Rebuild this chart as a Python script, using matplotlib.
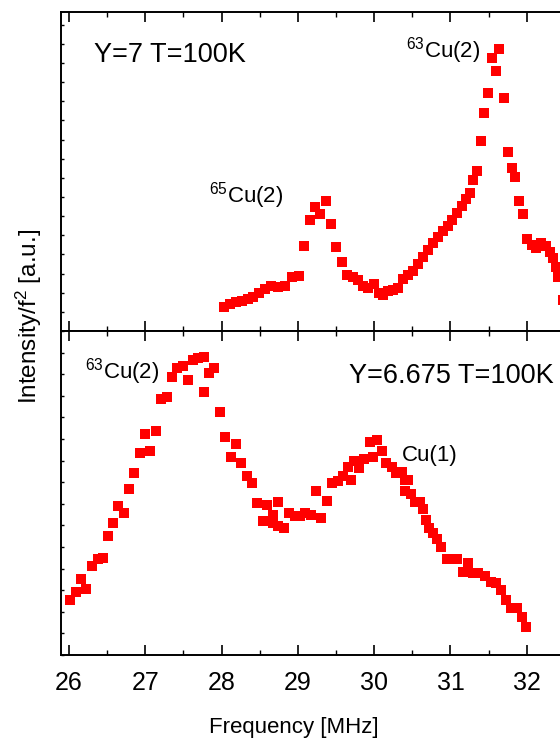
import matplotlib
matplotlib.use("Agg")
from matplotlib import pyplot as plt
from matplotlib.ticker import MultipleLocator, NullFormatter

plt.rcParams["font.family"] = "Liberation Sans"
plt.rcParams["mathtext.fontset"] = "custom"
plt.rcParams["mathtext.rm"] = "Liberation Sans"
plt.rcParams["mathtext.it"] = "Liberation Sans:italic"

# Y=7, T=100K
top_freq = [28.03, 28.11, 28.19, 28.27, 28.35, 28.41, 28.49, 28.57, 28.65, 28.74, 28.83, 28.92, 29.01,
            29.08, 29.16, 29.22, 29.29, 29.37, 29.43, 29.50, 29.58, 29.64,
            29.72, 29.79, 29.85, 29.92, 30.00,
            30.06, 30.12, 30.18, 30.25, 30.31, 30.38, 30.44, 30.51, 30.57, 30.64, 30.71, 30.77, 30.84, 30.90, 30.97,
            31.02, 31.09, 31.15, 31.20, 31.26, 31.30, 31.35, 31.40, 31.44, 31.49, 31.54, 31.60, 31.64, 31.70,
            31.75, 31.81, 31.85, 31.90, 31.95,
            32.00, 32.07, 32.12, 32.19, 32.25, 32.30, 32.34, 32.38, 32.41, 32.47]
top_int = [7.5, 8.5, 9.1, 9.4, 10.0, 10.7, 11.9, 13.2, 14.1, 13.8, 14.1, 16.9, 17.2,
           26.6, 34.8, 38.9, 36.7, 40.8, 33.5, 26.3, 21.6, 17.6,
           16.9, 16.0, 14.1, 13.5, 14.7,
           11.9, 11.3, 12.5, 12.9, 13.5, 16.3, 17.6, 18.8, 21.0, 23.2, 25.4, 27.6, 29.5, 31.3, 32.9,
           34.8, 37.0, 39.2, 41.4, 43.3, 47.3, 50.2, 59.6, 68.3, 74.6, 85.6, 81.5, 88.4, 73.0,
           56.1, 51.1, 48.3, 40.8, 36.7,
           28.8, 27.0, 26.0, 27.6, 26.6, 24.8, 22.9, 20.1, 16.9, 9.7]

# Y=6.675, T=100K
bot_freq = [26.01, 26.09, 26.16, 26.22, 26.30, 26.38, 26.45, 26.51, 26.58, 26.64, 26.72, 26.79, 26.85,
            26.93, 27.00, 27.06, 27.14, 27.21, 27.28, 27.35, 27.42, 27.49, 27.56, 27.63, 27.69, 27.77,
            27.77, 27.84, 27.90, 27.98, 28.04, 28.12, 28.19, 28.25, 28.33, 28.40, 28.46, 28.54, 28.60,
            28.67, 28.67, 28.74, 28.74, 28.82, 28.88, 28.96, 29.03, 29.09, 29.17, 29.24, 29.30, 29.38,
            29.45, 29.53, 29.59, 29.66, 29.70, 29.74, 29.80, 29.87, 29.95, 29.98, 30.04, 30.10, 30.15,
            30.23, 30.29, 30.36, 30.40, 30.44, 30.40, 30.48, 30.53, 30.60, 30.64, 30.68, 30.72, 30.77,
            30.82, 30.88, 30.95, 31.02, 31.09, 31.16, 31.23, 31.30, 31.36, 31.45, 31.53, 31.60, 31.66,
            31.73, 31.79, 31.87, 31.94, 31.99]
bot_int = [17.0, 19.4, 23.5, 20.4, 27.5, 29.6, 29.9, 36.7, 40.7, 46.0, 43.8, 51.2, 56.2,
           62.3, 68.2, 63.0, 69.1, 79.0, 79.6, 85.8, 88.6, 89.2, 84.9, 91.0, 91.7, 92.0,
           81.2, 87.0, 88.6, 75.0, 67.3, 61.1, 65.1, 59.3, 55.2, 53.1, 46.9, 41.4, 46.3,
           43.2, 40.7, 47.2, 39.8, 39.2, 43.8, 42.9, 42.9, 43.8, 43.2, 50.6, 42.3, 47.5,
           53.1, 53.7, 55.2, 58.0, 54.0, 59.9, 57.7, 60.5, 65.7, 61.1, 66.4, 63.0, 59.3,
           58.0, 56.2, 56.5, 54.0, 54.0, 50.6, 49.7, 47.2, 47.2, 45.1, 41.7, 39.2, 37.7,
           35.8, 33.3, 29.6, 29.6, 29.6, 25.6, 28.4, 25.3, 25.3, 24.4, 22.5, 22.2, 20.1,
           17.0, 14.5, 14.5, 11.7, 8.6]

fig = plt.figure(figsize=(5.6, 7.42), dpi=100)
# axes run past the right edge of the picture, as in the original
ax_top = fig.add_axes([0.109, 0.5539, 0.961, 0.4299])
ax_bot = fig.add_axes([0.109, 0.1173, 0.961, 0.4367])

for ax in (ax_top, ax_bot):
    ax.set_xlim(25.895, 32.95)
    ax.set_ylim(0, 100)
    ax.xaxis.set_major_locator(MultipleLocator(1))
    ax.xaxis.set_minor_locator(MultipleLocator(0.5))
    ax.tick_params(axis="x", which="major", direction="in", top=True, length=7.2, width=1.2)
    ax.tick_params(axis="x", which="minor", direction="in", top=True, length=3.6, width=1.0)
    ax.tick_params(axis="y", which="major", direction="in", length=2.5, width=1.0, labelleft=False)
    for sp in ax.spines.values():
        sp.set_linewidth(1.4)

ax_top.yaxis.set_major_locator(MultipleLocator(6))
ax_bot.yaxis.set_major_locator(MultipleLocator(100 / 15))
ax_top.xaxis.set_major_formatter(NullFormatter())
ax_bot.tick_params(axis="x", labelsize=18, pad=11.5)

ax_top.plot(top_freq, top_int, "s", color="#ff0000", ms=7.5, mew=0)
ax_bot.plot(bot_freq, bot_int, "s", color="#ff0000", ms=7.5, mew=0)

ax_top.text(26.33, 84.3, "Y=7 T=100K", fontsize=19.5, va="baseline")
ax_top.text(27.835, 40.4, r"$^{65}$Cu(2)", fontsize=16, va="baseline")
ax_top.text(30.417, 85.6, r"$^{63}$Cu(2)", fontsize=16, va="baseline")
ax_bot.text(26.21, 85.2, r"$^{63}$Cu(2)", fontsize=16, va="baseline")
ax_bot.text(29.67, 83.9, "Y=6.675 T=100K", fontsize=19.5, va="baseline")
ax_bot.text(30.364, 59.9, "Cu(1)", fontsize=16, va="baseline")

ax_bot.set_xlabel("Frequency [MHz]", fontsize=16)
ax_bot.xaxis.set_label_coords(0.432, -0.19)
fig.text(29 / 560, 1 - 316 / 742, r"Intensity/f$^2$ [a.u.]", rotation=90,
         fontsize=17.5, ha="center", va="center")

fig.savefig("out.png", dpi=100)
